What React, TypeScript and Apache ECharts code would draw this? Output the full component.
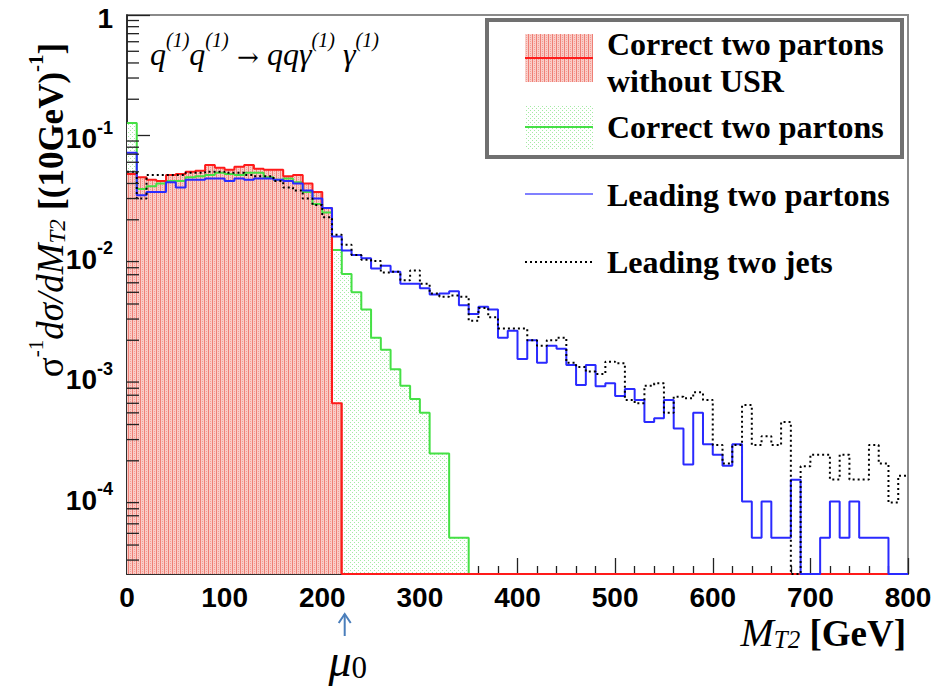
import React, { useEffect, useRef } from "react";
import * as echarts from "echarts";

// ---------- data ----------
const BIN_WIDTH = 10; // GeV
const N_BINS = 80;
const X_MIN = 0;
const X_MAX = 800;
const X_INTERVAL = 100;
const Y_MIN = 2.3e-5;
const Y_MAX = 1;
const MU0 = 223; // GeV, position of the mu_0 arrow

// Correct two partons without USR (red, filled)
const correctNoUSR = [
  0.048, 0.045, 0.043, 0.042, 0.047, 0.048, 0.050, 0.051, 0.057, 0.054,
  0.052, 0.055, 0.057, 0.053, 0.052, 0.052, 0.046, 0.047, 0.040, 0.034,
  0.025, 0.0006,
];

// Correct two partons (green, filled)
const correctTwo = [
  0.127, 0.036, 0.038, 0.040, 0.042, 0.042, 0.045, 0.046, 0.047, 0.049,
  0.048, 0.047, 0.049, 0.049, 0.045, 0.043, 0.044, 0.041, 0.034, 0.027,
  0.023, 0.0112, 0.0071, 0.0050, 0.0036, 0.0021, 0.00167, 0.00115, 0.00084, 0.00065,
  0.0005, 0.00023, 0.00023, 0.000046, 0.000046,
];

// Leading two partons (blue)
const leadingPartons = [
  0.072, 0.032, 0.034, 0.034, 0.041, 0.037, 0.043, 0.043, 0.044, 0.044,
  0.042, 0.044, 0.043, 0.044, 0.044, 0.043, 0.042, 0.040, 0.035, 0.030,
  0.025, 0.0145, 0.0111, 0.0102, 0.0096, 0.0079, 0.0083, 0.0074, 0.0059, 0.0059,
  0.0054, 0.0048, 0.0049, 0.0051, 0.0039, 0.0033, 0.0038, 0.0036, 0.0021, 0.0024,
  0.0014, 0.0020, 0.0013, 0.0018, 0.0017, 0.00125, 0.00085, 0.00125, 0.00083, 0.00088,
  0.00069, 0.00079, 0.00064, 0.00042, 0.00045, 0.00064, 0.00037, 0.000186, 0.0005, 0.000275,
  0.000225, 0.000182, 0.000275, 0.000092, 0.000046, 0.000092, 0.000046, 0.000046, 0.000139, 0,
  0, 0.000046, 0.000092, 0.000046, 0.000092, 0.000046, 0.000046, 0.000046, 0, 0,
];

// Leading two jets (black dotted)
const leadingJets = [
  0.050, 0.030, 0.047, 0.047, 0.047, 0.047, 0.049, 0.049, 0.050, 0.050,
  0.049, 0.049, 0.047, 0.046, 0.046, 0.042, 0.037, 0.035, 0.030, 0.0265,
  0.021, 0.015, 0.0124, 0.0102, 0.0093, 0.0091, 0.0073, 0.0074, 0.0063, 0.0076,
  0.0059, 0.0049, 0.0046, 0.0047, 0.0046, 0.0029, 0.0037, 0.0031, 0.0025, 0.0025,
  0.0025, 0.0020, 0.0018, 0.0020, 0.0021, 0.0013, 0.0012, 0.0011, 0.00105, 0.00133,
  0.00129, 0.00064, 0.0006, 0.00084, 0.00088, 0.0005, 0.00068, 0.00066, 0.00074, 0.00064,
  0.00027, 0.00019, 0.00027, 0.00058, 0.00027, 0.00032, 0.00027, 0.00042, 0, 0.00018,
  0.000225, 0.000225, 0.00014, 0.000225, 0.00014, 0.00014, 0.00027, 0.00019, 0.00009, 0.00015,
];

const LEGEND_LABELS = [
  ["Correct two partons", "without USR"],
  ["Correct two partons"],
  ["Leading two partons"],
  ["Leading two jets"],
];

// ---------- helpers ----------
const SERIF = "Liberation Serif";
const SANS = "Liberation Sans";
const RED = "#ff1a1a";
const GREEN = "#45e045";
const BLUE = "#2a2aff";

function stepData(vals: number[]) {
  const full = Array.from({ length: N_BINS }, (_, i) => vals[i] ?? 0);
  const pts = full.map((v, i) => [X_MIN + i * BIN_WIDTH, v > 0 ? v : Y_MIN]);
  const last = full[N_BINS - 1];
  pts.push([X_MIN + N_BINS * BIN_WIDTH, last > 0 ? last : Y_MIN]);
  return pts;
}

function makePattern(kind: "red" | "green") {
  const c = document.createElement("canvas");
  c.width = 4;
  c.height = 4;
  const g = c.getContext("2d")!;
  if (kind === "red") {
    g.fillStyle = "#f9cdc8";
    g.fillRect(0, 0, 4, 4);
    g.fillStyle = "#ef7f76";
    g.fillRect(0, 0, 1, 4);
    g.fillStyle = "#f39b93";
    g.fillRect(2, 1, 1, 1);
    g.fillRect(2, 3, 1, 1);
  } else {
    g.fillStyle = "#ffffff";
    g.fillRect(0, 0, 4, 4);
    g.fillStyle = "#a4eaa4";
    g.fillRect(0, 0, 1, 1);
    g.fillRect(2, 2, 1, 1);
  }
  return c;
}

const yMinorTicks: number[] = [];
for (let e = -5; e < 0; e++) {
  for (let m = 2; m <= 9; m++) {
    const v = m * Math.pow(10, e);
    if (v > Y_MIN && v < Y_MAX) yMinorTicks.push(v);
  }
}

export default function App() {
  const ref = useRef<HTMLDivElement>(null);

  useEffect(() => {
    if (!ref.current) return;
    const chart = echarts.init(ref.current, null, { renderer: "svg" });
    const redPat = { image: makePattern("red"), repeat: "repeat" };
    const greenPat = { image: makePattern("green"), repeat: "repeat" };

    const lineBase = {
      type: "line",
      step: "end",
      symbol: "none",
      silent: true,
      animation: false,
    };

    const option: any = {
      animation: false,
      backgroundColor: "#fff",
      grid: {
        left: 127,
        right: 28,
        top: 15,
        bottom: 116,
        show: true,
        borderColor: "#8a8a8a",
        borderWidth: 2,
        backgroundColor: "transparent",
      },
      xAxis: {
        type: "value",
        min: X_MIN,
        max: X_MAX,
        interval: X_INTERVAL,
        axisLine: { show: true, onZero: false, lineStyle: { color: "#111", width: 1.5 } },
        axisTick: { show: true, inside: true, length: 16, lineStyle: { color: "#222", width: 1.3 } },
        minorTick: { show: true, splitNumber: 5, length: 8, lineStyle: { color: "#222", width: 1.3 } },
        splitLine: { show: false },
        axisLabel: {
          color: "#000",
          fontFamily: SANS,
          fontWeight: "bold",
          fontSize: 28,
          margin: 9,
        },
      },
      yAxis: {
        type: "log",
        logBase: 10,
        min: Y_MIN,
        max: Y_MAX,
        axisLine: { show: true, onZero: false, lineStyle: { color: "#111", width: 1.5 } },
        axisTick: { show: true, inside: true, length: 23, lineStyle: { color: "#222", width: 1.3 } },
        splitLine: { show: false },
        axisLabel: {
          showMinLabel: false,
          margin: 14,
          formatter: (v: number) => {
            const e = Math.log10(v);
            const r = Math.round(e);
            if (Math.abs(e - r) > 1e-6) return "";
            if (r === 0) return "{b|1}";
            return "{b|10}{s|" + r + "}";
          },
          rich: {
            b: { fontFamily: SANS, fontWeight: "bold", fontSize: 28, color: "#000", lineHeight: 34, verticalAlign: "bottom" },
            s: { fontFamily: SANS, fontWeight: "bold", fontSize: 18, color: "#000", lineHeight: 18, verticalAlign: "top" },
          },
        },
      },
      series: [
        {
          ...lineBase,
          name: "Correct two partons (fill)",
          data: stepData(correctTwo),
          lineStyle: { width: 0, opacity: 0 },
          areaStyle: { color: greenPat, opacity: 1, origin: "start" },
          z: 1,
        },
        {
          ...lineBase,
          name: "Correct two partons without USR (fill)",
          data: stepData(correctNoUSR),
          lineStyle: { width: 0, opacity: 0 },
          areaStyle: { color: redPat, opacity: 1, origin: "start" },
          z: 2,
        },
        {
          ...lineBase,
          name: "Correct two partons",
          data: stepData(correctTwo),
          lineStyle: { color: GREEN, width: 2 },
          z: 3,
        },
        {
          ...lineBase,
          name: "Correct two partons without USR",
          data: stepData(correctNoUSR),
          lineStyle: { color: RED, width: 2 },
          z: 4,
        },
        {
          ...lineBase,
          name: "Leading two partons",
          data: stepData(leadingPartons),
          lineStyle: { color: BLUE, width: 2 },
          z: 5,
        },
        {
          ...lineBase,
          name: "Leading two jets",
          data: stepData(leadingJets),
          lineStyle: { color: "#000", width: 2, type: [2, 3] },
          z: 6,
        },
        {
          type: "custom",
          name: "yMinorTicks",
          silent: true,
          clip: false,
          z: 10,
          data: yMinorTicks.map((v) => [X_MIN, v]),
          encode: { x: 0, y: 1 },
          renderItem: (_p: any, api: any) => {
            const pt = api.coord([api.value(0), api.value(1)]);
            return {
              type: "line",
              shape: { x1: pt[0], y1: pt[1], x2: pt[0] + 12, y2: pt[1] },
              style: { stroke: "#222", lineWidth: 1.3 },
            };
          },
        },
      ],
    };

    chart.setOption(option);

    const muPx = chart.convertToPixel({ gridIndex: 0 }, [MU0, Y_MIN]) as number[];
    const ax = muPx[0];

    const legendX = 607;
    const swX = 525;
    const swW = 68;
    const legText = (text: string, y: number) => ({
      type: "text",
      x: legendX,
      y,
      style: {
        text,
        font: `bold 32px "${SERIF}"`,
        fill: "#000",
        align: "left",
        verticalAlign: "middle",
        textAlign: "left",
        textVerticalAlign: "middle",
      },
      z: 20,
    });

    const graphic: any[] = [
      // legend box
      {
        type: "rect",
        shape: { x: 487, y: 20, width: 415, height: 137 },
        style: { fill: "#fff", stroke: "#707070", lineWidth: 4 },
        z: 15,
      },
      { type: "rect", shape: { x: swX, y: 34, width: swW, height: 48 }, style: { fill: redPat }, z: 20 },
      { type: "line", shape: { x1: swX, y1: 58, x2: swX + swW, y2: 58 }, style: { stroke: RED, lineWidth: 2 }, z: 21 },
      { type: "rect", shape: { x: swX, y: 105, width: swW, height: 45 }, style: { fill: greenPat }, z: 20 },
      { type: "line", shape: { x1: swX, y1: 127, x2: swX + swW, y2: 127 }, style: { stroke: GREEN, lineWidth: 2 }, z: 21 },
      { type: "line", shape: { x1: swX, y1: 194, x2: swX + swW, y2: 194 }, style: { stroke: "#8080ff", lineWidth: 2 }, z: 21 },
      { type: "line", shape: { x1: swX, y1: 262, x2: swX + swW, y2: 262 }, style: { stroke: "#000", lineWidth: 2, lineDash: [2, 3] }, z: 21 },
      legText(LEGEND_LABELS[0][0], 44),
      legText(LEGEND_LABELS[0][1], 81),
      legText(LEGEND_LABELS[1][0], 127),
      legText(LEGEND_LABELS[2][0], 195),
      legText(LEGEND_LABELS[3][0], 262),
      // process annotation
      {
        type: "text",
        x: 150,
        y: 50,
        style: {
          text: "{i|q}{s|(1)}{i|q}{s|(1)}{n| → }{i|qqγ}{s|(1)}{i| γ}{s|(1)}",
          align: "left",
          verticalAlign: "middle",
          textAlign: "left",
          textVerticalAlign: "middle",
          rich: {
            i: { fontFamily: SERIF, fontStyle: "italic", fontSize: 32, lineHeight: 40, verticalAlign: "bottom", fill: "#000", color: "#000" },
            n: { fontFamily: "DejaVu Serif", fontSize: 26, lineHeight: 40, verticalAlign: "bottom", fill: "#000", color: "#000" },
            s: { fontFamily: SERIF, fontStyle: "italic", fontSize: 20, lineHeight: 22, verticalAlign: "top", fill: "#000", color: "#000" },
          },
        },
        z: 20,
      },
      // y axis title
      {
        type: "text",
        x: 47,
        y: 210,
        rotation: Math.PI / 2,
        style: {
          text: "{r|σ}{p|-1}{i|dσ/dM}{u|T2}{r| }{b|[(10GeV)}{q|-1}{b|]}",
          align: "center",
          verticalAlign: "middle",
          textAlign: "center",
          textVerticalAlign: "middle",
          rich: {
            r: { fontFamily: SERIF, fontSize: 37, lineHeight: 44, verticalAlign: "bottom", fill: "#000", color: "#000" },
            i: { fontFamily: SERIF, fontStyle: "italic", fontSize: 37, lineHeight: 44, verticalAlign: "bottom", fill: "#000", color: "#000" },
            b: { fontFamily: SERIF, fontWeight: "bold", fontSize: 35, lineHeight: 44, verticalAlign: "bottom", fill: "#000", color: "#000" },
            p: { fontFamily: SERIF, fontSize: 21, lineHeight: 22, verticalAlign: "top", fill: "#000", color: "#000" },
            q: { fontFamily: SERIF, fontWeight: "bold", fontSize: 21, lineHeight: 22, verticalAlign: "top", fill: "#000", color: "#000" },
            u: { fontFamily: SERIF, fontStyle: "italic", fontSize: 23, lineHeight: 18, verticalAlign: "bottom", fill: "#000", color: "#000" },
          },
        },
        z: 20,
      },
      // x axis title
      {
        type: "text",
        x: 906,
        y: 629,
        style: {
          text: "{i|M}{u|T2}{b| [GeV]}",
          align: "right",
          verticalAlign: "middle",
          textAlign: "right",
          textVerticalAlign: "middle",
          rich: {
            i: { fontFamily: SERIF, fontStyle: "italic", fontSize: 40, lineHeight: 46, verticalAlign: "bottom", fill: "#000", color: "#000" },
            b: { fontFamily: SERIF, fontWeight: "bold", fontSize: 37, lineHeight: 46, verticalAlign: "bottom", fill: "#000", color: "#000" },
            u: { fontFamily: SERIF, fontStyle: "italic", fontSize: 25, lineHeight: 20, verticalAlign: "bottom", fill: "#000", color: "#000" },
          },
        },
        z: 20,
      },
      // mu_0 arrow
      { type: "line", shape: { x1: ax, y1: 614, x2: ax, y2: 636 }, style: { stroke: "#4a7ebb", lineWidth: 2 }, z: 20 },
      {
        type: "polyline",
        shape: { points: [[ax - 6, 623], [ax, 614], [ax + 6, 623]] },
        style: { stroke: "#4a7ebb", lineWidth: 2, fill: "none" },
        z: 20,
      },
      {
        type: "text",
        x: ax + 3,
        y: 661,
        style: {
          text: "{m|μ}{z|0}",
          align: "center",
          verticalAlign: "middle",
          textAlign: "center",
          textVerticalAlign: "middle",
          rich: {
            m: { fontFamily: SERIF, fontStyle: "italic", fontSize: 46, lineHeight: 44, verticalAlign: "bottom", fill: "#000", color: "#000" },
            z: { fontFamily: SERIF, fontSize: 31, lineHeight: 24, verticalAlign: "bottom", fill: "#000", color: "#000" },
          },
        },
        z: 20,
      },
    ];

    chart.setOption({ graphic });

    return () => chart.dispose();
  }, []);

  return (
    <div
      ref={ref}
      style={{ position: "absolute", left: 0, top: 0, width: 936, height: 690, background: "#fff" }}
    />
  );
}
